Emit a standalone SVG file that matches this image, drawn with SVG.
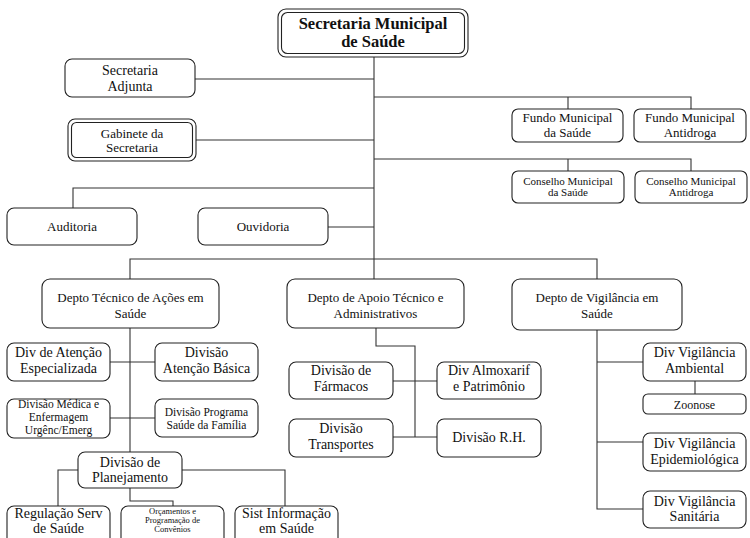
<svg xmlns="http://www.w3.org/2000/svg" width="750" height="538" viewBox="0 0 750 538">
<style>
.b{fill:#fff;stroke:#222;stroke-width:1.1}
.c{fill:none;stroke:#333;stroke-width:1.1}
text{font-family:"Liberation Serif","Times New Roman",serif;fill:#111;text-anchor:middle}
.t13{font-size:13px}.t14{font-size:14px}.t11{font-size:11px}.t12{font-size:12px}.t115{font-size:11.5px}.t9{font-size:8.5px}
.h{font-size:16.5px;font-weight:bold}
</style>
<rect width="750" height="538" fill="#fff"/>
<g id="connectors">
<path class="c" d="M374 57V279"/>
<path class="c" d="M195 79H374"/>
<path class="c" d="M196 140H374"/>
<path class="c" d="M374 97H691V109M568 97V109"/>
<path class="c" d="M374 159H691V171M568 159V171"/>
<path class="c" d="M374 188H73V208"/>
<path class="c" d="M328 227H374"/>
<path class="c" d="M130 279V259H597V279"/>
<path class="c" d="M130 328V452"/>
<path class="c" d="M110 362H155M110 418H155"/>
<path class="c" d="M78 470H58V506M182 470H285V506M130 488V501H173V506"/>
<path class="c" d="M376 328V346H415V437M393 381H437M393 437H437"/>
<path class="c" d="M597 330V509H643M597 362H643M597 442H643M695 381V394"/>
</g>
<g id="n-secretaria">
<rect class="b" x="278" y="9" width="190" height="48" rx="8"/>
<rect class="b" x="281.5" y="12.5" width="183" height="41" rx="6"/>
<text class="h" x="373" y="29">Secretaria Municipal</text>
<text class="h" x="373" y="47">de Saúde</text>
</g>
<g id="n-adjunta">
<rect class="b" x="65" y="59" width="130" height="38" rx="7"/>
<text class="t14" x="130" y="75">Secretaria</text>
<text class="t14" x="130" y="91">Adjunta</text>
</g>
<g id="n-gabinete">
<rect class="b" x="68" y="119" width="128" height="42" rx="7"/>
<rect class="b" x="71.5" y="122.5" width="121" height="35" rx="5"/>
<text class="t13" x="132" y="138">Gabinete da</text>
<text class="t13" x="132" y="152">Secretaria</text>
</g>
<g id="n-fundo-saude">
<rect class="b" x="512" y="109" width="111" height="33" rx="6"/>
<text class="t13" x="567.5" y="122">Fundo Municipal</text>
<text class="t13" x="567.5" y="137">da Saúde</text>
</g>
<g id="n-fundo-antidroga">
<rect class="b" x="634" y="109" width="112" height="33" rx="6"/>
<text class="t13" x="690" y="122">Fundo Municipal</text>
<text class="t13" x="690" y="137">Antidroga</text>
</g>
<g id="n-conselho-saude">
<rect class="b" x="512" y="171" width="112" height="32" rx="6"/>
<text class="t11" x="568" y="185">Conselho Municipal</text>
<text class="t11" x="568" y="196">da Saúde</text>
</g>
<g id="n-conselho-antidroga">
<rect class="b" x="635" y="171" width="112" height="32" rx="6"/>
<text class="t11" x="691" y="185">Conselho Municipal</text>
<text class="t11" x="691" y="196">Antidroga</text>
</g>
<g id="n-auditoria">
<rect class="b" x="7" y="208" width="130" height="37" rx="7"/>
<text class="t13" x="72" y="231">Auditoria</text>
</g>
<g id="n-ouvidoria">
<rect class="b" x="198" y="208" width="130" height="37" rx="7"/>
<text class="t13" x="263" y="231">Ouvidoria</text>
</g>
<g id="n-depto-tecnico">
<rect class="b" x="42" y="279" width="177" height="49" rx="8"/>
<text class="t13" x="130.5" y="302">Depto Técnico de Ações em</text>
<text class="t13" x="130.5" y="318">Saúde</text>
</g>
<g id="n-depto-apoio">
<rect class="b" x="287" y="279" width="177" height="49" rx="8"/>
<text class="t13" x="375.5" y="302">Depto de Apoio Técnico e</text>
<text class="t13" x="375.5" y="318">Administrativos</text>
</g>
<g id="n-depto-vigilancia">
<rect class="b" x="512" y="279" width="170" height="51" rx="8"/>
<text class="t13" x="597" y="302">Depto de Vigilância em</text>
<text class="t13" x="597" y="318">Saúde</text>
</g>
<g id="n-div-especializada">
<rect class="b" x="7" y="343" width="103" height="38" rx="7"/>
<text class="t14" x="58.5" y="357">Div de Atenção</text>
<text class="t14" x="58.5" y="373">Especializada</text>
</g>
<g id="n-div-basica">
<rect class="b" x="155" y="343" width="103" height="38" rx="7"/>
<text class="t14" x="206.5" y="357">Divisão</text>
<text class="t14" x="206.5" y="373">Atenção Básica</text>
</g>
<g id="n-div-medica">
<rect class="b" x="7" y="399" width="103" height="39" rx="7"/>
<text class="t115" x="58.5" y="408">Divisão Médica e</text>
<text class="t115" x="58.5" y="421">Enfermagem</text>
<text class="t115" x="58.5" y="434">Urgênc/Emerg</text>
</g>
<g id="n-div-programa">
<rect class="b" x="155" y="399" width="103" height="38" rx="7"/>
<text class="t115" x="206.5" y="416">Divisão Programa</text>
<text class="t115" x="206.5" y="429">Saúde da Família</text>
</g>
<g id="n-planejamento">
<rect class="b" x="78" y="452" width="104" height="36" rx="7"/>
<text class="t14" x="130" y="467">Divisão de</text>
<text class="t14" x="130" y="482">Planejamento</text>
</g>
<g id="n-regulacao">
<rect class="b" x="7" y="506" width="103" height="40" rx="7"/>
<text class="t14" x="58.5" y="518">Regulação Serv</text>
<text class="t14" x="58.5" y="533">de Saúde</text>
</g>
<g id="n-orcamentos">
<rect class="b" x="121" y="506" width="103" height="40" rx="7"/>
<text class="t9" x="172.5" y="513.5">Orçamentos e</text>
<text class="t9" x="172.5" y="522.5">Programação de</text>
<text class="t9" x="172.5" y="531.5">Convênios</text>
</g>
<g id="n-sist-informacao">
<rect class="b" x="235" y="506" width="103" height="40" rx="7"/>
<text class="t14" x="286.5" y="518">Sist Informação</text>
<text class="t14" x="286.5" y="533">em Saúde</text>
</g>
<g id="n-farmacos">
<rect class="b" x="289" y="362" width="104" height="37" rx="7"/>
<text class="t14" x="341" y="375">Divisão de</text>
<text class="t14" x="341" y="391">Fármacos</text>
</g>
<g id="n-almoxarif">
<rect class="b" x="437" y="362" width="104" height="37" rx="7"/>
<text class="t14" x="489" y="375">Div Almoxarif</text>
<text class="t14" x="489" y="391">e Patrimônio</text>
</g>
<g id="n-transportes">
<rect class="b" x="289" y="419" width="104" height="38" rx="7"/>
<text class="t14" x="341" y="433">Divisão</text>
<text class="t14" x="341" y="449">Transportes</text>
</g>
<g id="n-rh">
<rect class="b" x="437" y="419" width="104" height="38" rx="7"/>
<text class="t14" x="489" y="442">Divisão R.H.</text>
</g>
<g id="n-ambiental">
<rect class="b" x="643" y="343" width="103" height="38" rx="7"/>
<text class="t14" x="694.5" y="357">Div Vigilância</text>
<text class="t14" x="694.5" y="373">Ambiental</text>
</g>
<g id="n-zoonose">
<rect class="b" x="643" y="394" width="103" height="20" rx="5"/>
<text class="t12" x="694.5" y="409">Zoonose</text>
</g>
<g id="n-epidemiologica">
<rect class="b" x="643" y="433" width="103" height="38" rx="7"/>
<text class="t14" x="694.5" y="448">Div Vigilância</text>
<text class="t14" x="694.5" y="464">Epidemiológica</text>
</g>
<g id="n-sanitaria">
<rect class="b" x="643" y="491" width="103" height="37" rx="7"/>
<text class="t14" x="694.5" y="506">Div Vigilância</text>
<text class="t14" x="694.5" y="521">Sanitária</text>
</g>
</svg>
